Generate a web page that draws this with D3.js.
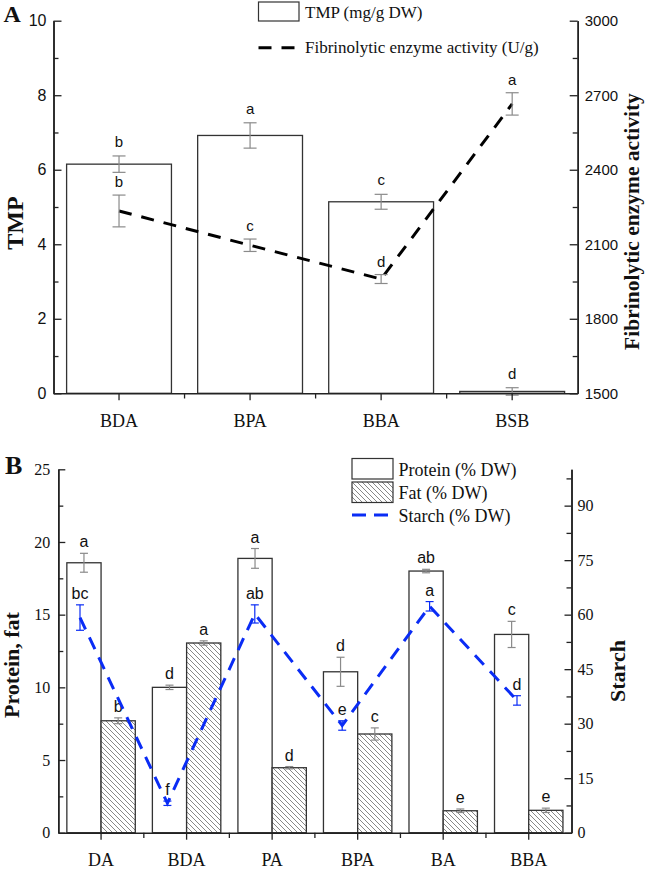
<!DOCTYPE html>
<html><head><meta charset="utf-8">
<script src="https://cdn.jsdelivr.net/npm/d3@7/dist/d3.min.js"></script>
<style>body{margin:0;background:#fff}svg{display:block}</style>
</head><body>
<script>
// ---------- Panel A data ----------
const catsA = ["BDA", "BPA", "BBA", "BSB"];
const tmp = [6.15, 6.92, 5.14, 0.05];
const tmpErr = [0.22, 0.34, 0.2, 0.1];
const tmpLetters = ["b", "a", "c", "d"];
const enzyme = [2234, 2096, 1960, 2665];
const enzymeErr = [64, 25, 18, 45];
const enzymeLetters = ["b", "c", "d", "a"];
const tmpTicks = [0, 2, 4, 6, 8, 10];
const tmpMinor = [1, 3, 5, 7, 9];
const enzTicks = [1500, 1800, 2100, 2400, 2700, 3000];
const enzMinor = [1650, 1950, 2250, 2550, 2850];

// ---------- Panel B data ----------
const catsB = ["DA", "BDA", "PA", "BPA", "BA", "BBA"];
const protein = [18.57, 10.0, 18.87, 11.07, 18.0, 13.64];
const proteinErr = [0.65, 0.15, 0.68, 1.0, 0.12, 0.9];
const proteinLetters = ["a", "d", "a", "d", "ab", "c"];
const fat = [7.7, 13.05, 4.47, 6.79, 1.51, 1.54];
const fatErr = [0.2, 0.15, 0.08, 0.42, 0.12, 0.15];
const fatLetters = ["b", "a", "d", "c", "e", "e"];
const starch = [59.2, 8.1, 60.2, 29.5, 62.3, 36.4];
const starchErr = [3.5, 0.6, 2.5, 1.3, 1.3, 1.3];
const starchLetters = ["bc", "f", "ab", "e", "a", "d"];
const leftTicksB = [0, 5, 10, 15, 20, 25];
const leftMinorB = [2.5, 7.5, 12.5, 17.5, 22.5];
const rightTicksB = [0, 15, 30, 45, 60, 75, 90];
const rightMinorB = [7.5, 22.5, 37.5, 52.5, 67.5, 82.5, 97.5];

const SERIF = "'Liberation Serif','Times New Roman',serif";
const SANS = "'Liberation Sans',Arial,sans-serif";
const AX = "#222";
const ERR = "#8a8a8a";
const BLUE = "#0a2cf5";

const svg = d3.select("body").append("svg").attr("width", 646).attr("height", 879);

const defs = svg.append("defs");
const pat = defs.append("pattern").attr("id", "hatch").attr("patternUnits", "userSpaceOnUse")
  .attr("width", 5).attr("height", 5);
pat.append("rect").attr("width", 5).attr("height", 5).attr("fill", "#fff");
pat.append("path").attr("d", "M-1,-1 L6,6 M-1,4 L1,6 M4,-1 L6,1")
  .attr("stroke", "#7a7a7a").attr("stroke-width", 0.9);

function styleAxis(g, font, size) {
  g.select(".domain").attr("stroke", AX).attr("stroke-width", 1.5);
  g.selectAll(".tick line").attr("stroke", AX).attr("stroke-width", 1.3);
  g.selectAll("text").attr("font-family", font).attr("font-size", size).attr("fill", "#111");
}

function errBar(g, x, yTop, yBot, color, cap) {
  g.append("line").attr("x1", x).attr("x2", x).attr("y1", yTop).attr("y2", yBot)
    .attr("stroke", color).attr("stroke-width", 1.2);
  [yTop, yBot].forEach(y => g.append("line").attr("x1", x - cap).attr("x2", x + cap)
    .attr("y1", y).attr("y2", y).attr("stroke", color).attr("stroke-width", 1.2));
}

function letter(g, x, y, t, size) {
  g.append("text").attr("x", x).attr("y", y).attr("text-anchor", "middle")
    .attr("font-family", SANS).attr("font-size", size).attr("fill", "#111").text(t);
}

// ================= PANEL A =================
const gA = svg.append("g");
const xA = d3.scaleBand().domain(catsA).range([53.5, 577.7]).paddingInner(0.2).paddingOuter(0.1);
const yA = d3.scaleLinear().domain([0, 10]).range([393.3, 20.7]);
const yA2 = d3.scaleLinear().domain([1500, 3000]).range([393.3, 20.7]);
const cxA = c => xA(c) + xA.bandwidth() / 2;

// bars
gA.selectAll(".barA").data(catsA).enter().append("rect")
  .attr("x", d => xA(d)).attr("width", xA.bandwidth())
  .attr("y", (d, i) => yA(tmp[i])).attr("height", (d, i) => yA(0) - yA(tmp[i]))
  .attr("fill", "#fff").attr("stroke", "#333").attr("stroke-width", 1.3);

// TMP error bars + letters
catsA.forEach((c, i) => {
  errBar(gA, cxA(c), yA(tmp[i] + tmpErr[i]), yA(tmp[i] - tmpErr[i]), ERR, 6.5);
  letter(gA, cxA(c), yA(tmp[i] + tmpErr[i]) - 9, tmpLetters[i], 15);
});

// enzyme line
const lineA = d3.line().x((d, i) => cxA(catsA[i])).y(d => yA2(d));
gA.append("path").datum(enzyme).attr("d", lineA).attr("fill", "none")
  .attr("stroke", "#000").attr("stroke-width", 3).attr("stroke-dasharray", "13,10");
catsA.forEach((c, i) => {
  errBar(gA, cxA(c), yA2(enzyme[i] + enzymeErr[i]), yA2(enzyme[i] - enzymeErr[i]), ERR, 6.5);
  letter(gA, cxA(c), yA2(enzyme[i] + enzymeErr[i]) - 8, enzymeLetters[i], 15);
});

// axes
const axLA = gA.append("g").attr("transform", "translate(53.5,0)")
  .call(d3.axisLeft(yA).tickValues(tmpTicks).tickSize(-8).tickPadding(7).tickSizeOuter(0));
styleAxis(axLA, SANS, 16);
const axLAm = gA.append("g").attr("transform", "translate(53.5,0)")
  .call(d3.axisLeft(yA).tickValues(tmpMinor).tickSize(-5).tickFormat("").tickSizeOuter(0));
styleAxis(axLAm, SANS, 16);
const axRA = gA.append("g").attr("transform", "translate(577.7,0)")
  .call(d3.axisRight(yA2).tickValues(enzTicks).tickSize(-8).tickPadding(7).tickFormat(d3.format("d")).tickSizeOuter(0));
styleAxis(axRA, SANS, 15);
const axRAm = gA.append("g").attr("transform", "translate(577.7,0)")
  .call(d3.axisRight(yA2).tickValues(enzMinor).tickSize(-5).tickFormat("").tickSizeOuter(0));
styleAxis(axRAm, SANS, 15);
const axBA = gA.append("g").attr("transform", "translate(0,393.3)")
  .call(d3.axisBottom(xA).tickSize(7).tickPadding(14).tickSizeOuter(0));
styleAxis(axBA, SERIF, 18);
// minor ticks at band boundaries
catsA.slice(1).forEach(c => {
  const x = xA(c) - xA.step() * xA.paddingInner() / 2;
  gA.append("line").attr("x1", x).attr("x2", x).attr("y1", 393.3).attr("y2", 398.5)
    .attr("stroke", AX).attr("stroke-width", 1.3);
});

// titles
gA.append("text").attr("transform", "translate(22.5,223) rotate(-90)").attr("text-anchor", "middle")
  .attr("font-family", SERIF).attr("font-weight", "bold").attr("font-size", 24).attr("fill", "#111").text("TMP");
gA.append("text").attr("transform", "translate(639,221.5) rotate(-90)").attr("text-anchor", "middle")
  .attr("font-family", SERIF).attr("font-weight", "bold").attr("font-size", 21.5).attr("fill", "#111").text("Fibrinolytic enzyme activity");
gA.append("text").attr("x", 3.5).attr("y", 21.5).attr("font-family", SERIF).attr("font-weight", "bold")
  .attr("font-size", 24).attr("fill", "#111").text("A");

// legend A
gA.append("rect").attr("x", 258.5).attr("y", 2).attr("width", 40.5).attr("height", 19)
  .attr("fill", "#fff").attr("stroke", "#333").attr("stroke-width", 1.2);
gA.append("text").attr("x", 305).attr("y", 17.5).attr("font-family", SERIF).attr("font-size", 17)
  .attr("fill", "#111").text("TMP (mg/g DW)");
gA.append("line").attr("x1", 258.5).attr("x2", 299).attr("y1", 47.7).attr("y2", 47.7)
  .attr("stroke", "#000").attr("stroke-width", 3).attr("stroke-dasharray", "13,10");
gA.append("text").attr("x", 305).attr("y", 53).attr("font-family", SERIF).attr("font-size", 17)
  .attr("fill", "#111").text("Fibrinolytic enzyme activity (U/g)");

// ================= PANEL B =================
const gB = svg.append("g");
const xB = d3.scaleBand().domain(catsB).range([58.3, 571.5]).paddingInner(0.2).paddingOuter(0.1);
const sub = d3.scaleBand().domain(["Protein", "Fat"]).range([0, xB.bandwidth()]);
const xS = d3.scalePoint().domain(catsB).range([80, 517]);
const yB = d3.scaleLinear().domain([0, 25]).range([832.7, 469.3]);
const yB2 = d3.scaleLinear().domain([0, 100]).range([832.7, 469.3]);

// protein bars
gB.selectAll(".prot").data(catsB).enter().append("rect")
  .attr("x", d => xB(d) + sub("Protein")).attr("width", sub.bandwidth())
  .attr("y", (d, i) => yB(protein[i])).attr("height", (d, i) => yB(0) - yB(protein[i]))
  .attr("fill", "#fff").attr("stroke", "#333").attr("stroke-width", 1.3);
// fat bars
gB.selectAll(".fat").data(catsB).enter().append("rect")
  .attr("x", d => xB(d) + sub("Fat")).attr("width", sub.bandwidth())
  .attr("y", (d, i) => yB(fat[i])).attr("height", (d, i) => yB(0) - yB(fat[i]))
  .attr("fill", "url(#hatch)").attr("stroke", "#333").attr("stroke-width", 1.3);

catsB.forEach((c, i) => {
  const px = xB(c) + sub("Protein") + sub.bandwidth() / 2;
  const fx = xB(c) + sub("Fat") + sub.bandwidth() / 2;
  errBar(gB, px, yB(protein[i] + proteinErr[i]), yB(protein[i] - proteinErr[i]), ERR, 4);
  letter(gB, px, yB(protein[i] + proteinErr[i]) - 6, proteinLetters[i], 16);
  errBar(gB, fx, yB(fat[i] + fatErr[i]), yB(fat[i] - fatErr[i]), ERR, 4);
  letter(gB, fx, yB(fat[i] + fatErr[i]) - 6, fatLetters[i], 16);
});

// starch line
const lineB = d3.line().x((d, i) => xS(catsB[i])).y(d => yB2(d));
gB.append("path").datum(starch).attr("d", lineB).attr("fill", "none")
  .attr("stroke", BLUE).attr("stroke-width", 3).attr("stroke-dasharray", "13,9");
catsB.forEach((c, i) => {
  errBar(gB, xS(c), yB2(starch[i] + starchErr[i]), yB2(starch[i] - starchErr[i]), BLUE, 4);
  letter(gB, xS(c), yB2(starch[i] + starchErr[i]) - 6, starchLetters[i], 16);
});

// axes B
const axLB = gB.append("g").attr("transform", "translate(58.3,0)")
  .call(d3.axisLeft(yB).tickValues(leftTicksB).tickSize(-7).tickPadding(8).tickSizeOuter(0));
styleAxis(axLB, SERIF, 16);
const axLBm = gB.append("g").attr("transform", "translate(58.3,0)")
  .call(d3.axisLeft(yB).tickValues(leftMinorB).tickSize(-5).tickFormat("").tickSizeOuter(0));
styleAxis(axLBm, SERIF, 16);
const axRB = gB.append("g").attr("transform", "translate(571.5,0)")
  .call(d3.axisRight(yB2).tickValues(rightTicksB).tickSize(-7).tickPadding(6).tickSizeOuter(0));
styleAxis(axRB, SERIF, 16);
const axRBm = gB.append("g").attr("transform", "translate(571.5,0)")
  .call(d3.axisRight(yB2).tickValues(rightMinorB).tickSize(-5).tickFormat("").tickSizeOuter(0));
styleAxis(axRBm, SERIF, 16);
const axBB = gB.append("g").attr("transform", "translate(0,832.7)")
  .call(d3.axisBottom(xB).tickSize(7).tickPadding(14).tickSizeOuter(0));
styleAxis(axBB, SERIF, 18);
catsB.slice(1).forEach(c => {
  const x = xB(c) - xB.step() * xB.paddingInner() / 2;
  gB.append("line").attr("x1", x).attr("x2", x).attr("y1", 832.7).attr("y2", 838)
    .attr("stroke", AX).attr("stroke-width", 1.3);
});

// titles B
gB.append("text").attr("transform", "translate(18.5,665) rotate(-90)").attr("text-anchor", "middle")
  .attr("font-family", SERIF).attr("font-weight", "bold").attr("font-size", 22).attr("fill", "#111").text("Protein, fat");
gB.append("text").attr("transform", "translate(625,671) rotate(-90)").attr("text-anchor", "middle")
  .attr("font-family", SERIF).attr("font-weight", "bold").attr("font-size", 22).attr("fill", "#111").text("Starch");
gB.append("text").attr("x", 5).attr("y", 474.3).attr("font-family", SERIF).attr("font-weight", "bold")
  .attr("font-size", 26).attr("fill", "#111").text("B");

// legend B
gB.append("rect").attr("x", 352).attr("y", 458.5).attr("width", 41).attr("height", 20.5)
  .attr("fill", "#fff").attr("stroke", "#333").attr("stroke-width", 1.2);
gB.append("text").attr("x", 398.5).attr("y", 475.5).attr("font-family", SERIF).attr("font-size", 18)
  .attr("fill", "#111").text("Protein (% DW)");
gB.append("rect").attr("x", 352).attr("y", 482).attr("width", 41).attr("height", 20.5)
  .attr("fill", "url(#hatch)").attr("stroke", "#333").attr("stroke-width", 1.2);
gB.append("text").attr("x", 398.5).attr("y", 498.5).attr("font-family", SERIF).attr("font-size", 18)
  .attr("fill", "#111").text("Fat (% DW)");
gB.append("line").attr("x1", 352).attr("x2", 393).attr("y1", 515).attr("y2", 515)
  .attr("stroke", BLUE).attr("stroke-width", 3).attr("stroke-dasharray", "14,8");
gB.append("text").attr("x", 398.5).attr("y", 521.5).attr("font-family", SERIF).attr("font-size", 18)
  .attr("fill", "#111").text("Starch (% DW)");
</script>
</body></html>
